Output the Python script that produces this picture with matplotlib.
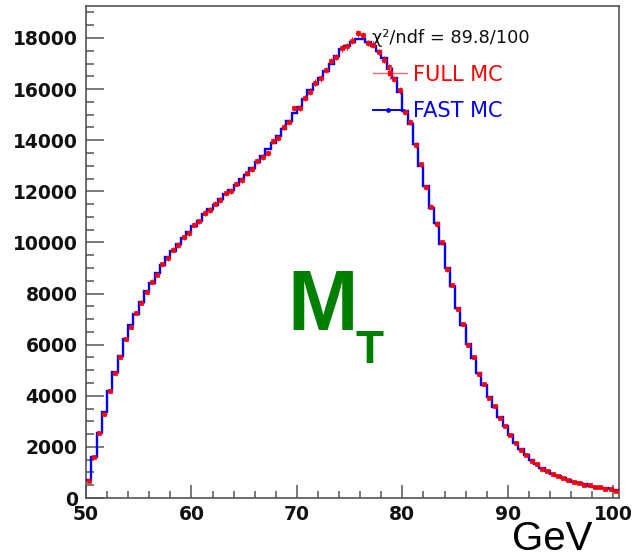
import numpy as np
import matplotlib
matplotlib.use("Agg")
import matplotlib.pyplot as plt
from matplotlib.lines import Line2D
from matplotlib.ticker import MultipleLocator

# Transverse mass, 0.5 GeV bins from 50 to 100.5 GeV
bin_lo = 50.0
bin_hi = 100.5
bin_width = 0.5

fast_mc = [
    700, 1620, 2560, 3350, 4190, 4920, 5570, 6210, 6760, 7190,
    7680, 8090, 8430, 8790, 9110, 9410, 9680, 9930, 10160, 10400,
    10650, 10850, 11100, 11300, 11480, 11700, 11880, 12050, 12250, 12480,
    12650, 12900, 13150, 13400, 13650, 13900, 14150, 14450, 14750, 15050,
    15300, 15600, 15950, 16200, 16450, 16700, 17000, 17300, 17550, 17700,
    17850, 17950, 17950, 17850, 17700, 17500, 17200, 16800, 16450, 15900,
    15150, 14640, 13840, 13000, 12200, 11360, 10770, 9940, 9000, 8300,
    7450, 6770, 6040, 5470, 4900, 4420, 3960, 3570, 3150, 2800,
    2470, 2150, 1900, 1680, 1480, 1320, 1170, 1050, 950, 860,
    780, 700, 640, 580, 530, 480, 440, 410, 380, 340,
    300,
]

full_mc = [
    680, 1610, 2540, 3300, 4170, 4900, 5500, 6230, 6680, 7240,
    7640, 8060, 8470, 8740, 9150, 9380, 9720, 9900, 10200, 10370,
    10700, 10820, 11150, 11270, 11520, 11660, 11920, 12010, 12300, 12440,
    12700, 12860, 13200, 13350, 13500, 13950, 14100, 14500, 14700, 15250,
    15260, 15650, 15900, 16250, 16420, 16750, 17100, 17250, 17600, 17680,
    17900, 18190, 18100, 17800, 17730, 17450, 17150, 16850, 16400, 15950,
    15100, 14700, 13800, 13050, 12150, 11400, 10720, 10000, 8950, 8330,
    7400, 6800, 6000, 5500, 4860, 4450, 3930, 3600, 3120, 2830,
    2450, 2170, 1880, 1700, 1460, 1340, 1150, 1060, 940, 870,
    770, 710, 630, 590, 520, 490, 430, 415, 370, 350,
    290,
]

chi2_text = "\u03c7\u00b2/ndf = 89.8/100"
x_ticks = [50, 60, 70, 80, 90, 100]
y_ticks = [0, 2000, 4000, 6000, 8000, 10000, 12000, 14000, 16000, 18000]

edges = np.arange(len(fast_mc) + 1) * bin_width + bin_lo
centers = 0.5 * (edges[:-1] + edges[1:])
fast = np.asarray(fast_mc, float)
full = np.asarray(full_mc, float)

fig = plt.figure(figsize=(6.36, 5.6), dpi=100)
fig.patch.set_facecolor("white")
ax = fig.add_axes([86 / 636, 1 - 498 / 560, 532.5 / 636, 492 / 560])

ax.stairs(fast, edges, baseline=None, color="#0000ff", lw=1.7, zorder=3)
ax.errorbar(centers, full, yerr=np.sqrt(full), xerr=bin_width / 2,
            fmt="s", ms=2.3, color="#ff0000", mec="#ff0000", mew=0.5,
            elinewidth=0.7, capsize=0, zorder=4)

ax.set_xlim(bin_lo, bin_hi)
ax.set_ylim(0, 19250)

frame = "#555555"
for s in ax.spines.values():
    s.set_color(frame)
    s.set_linewidth(1.2)

ax.xaxis.set_minor_locator(MultipleLocator(2))
ax.yaxis.set_minor_locator(MultipleLocator(500))
ax.set_xticks(x_ticks)
ax.set_yticks(y_ticks)

tick_font = dict(family="DejaVu Sans", weight="bold", size=13.5)
ax.set_xticklabels([str(v) for v in x_ticks], fontdict=tick_font)
ax.set_yticklabels([str(v) for v in y_ticks], fontdict=tick_font)

ax.tick_params(axis="y", which="major", direction="in", length=13, width=1.1,
               color=frame, pad=6, labelcolor="#111111")
ax.tick_params(axis="y", which="minor", direction="in", length=6, width=1.1,
               color=frame)
ax.tick_params(axis="x", which="major", direction="in", length=9.5, width=1.1,
               color=frame, pad=5, labelcolor="#111111")
ax.tick_params(axis="x", which="minor", direction="in", length=5, width=1.1,
               color=frame)

# legend drawn by hand in axes coordinates
tA = ax.transAxes
ax.add_line(Line2D([0.539, 0.603], [0.864, 0.864], color="#ff6666", lw=1.0,
                   transform=tA, zorder=5))
ax.add_line(Line2D([0.571, 0.571], [0.851, 0.877], color="#ff6666", lw=1.0,
                   transform=tA, zorder=5))
ax.add_line(Line2D([0.571], [0.864], color="#ff0000", marker="s", ms=2.3,
                   transform=tA, zorder=5))
ax.add_line(Line2D([0.539, 0.598], [0.789, 0.789], color="#0000ff", lw=1.4,
                   transform=tA, zorder=5))
ax.add_line(Line2D([0.567], [0.789], color="#0000ff", marker="o", ms=2.4,
                   transform=tA, zorder=5))
ax.text(0.614, 0.860, "FULL MC", transform=tA, color="#ff0000",
        fontsize=15, family="DejaVu Sans", va="center", ha="left")
ax.text(0.614, 0.787, "FAST MC", transform=tA, color="#0000ff",
        fontsize=15, family="DejaVu Sans", va="center", ha="left")
ax.text(0.537, 0.935, chi2_text, transform=tA, color="#111111",
        fontsize=12.8, family="DejaVu Sans", va="center", ha="left")

# M_T label
fig.text(287 / 636, 1 - 330 / 560, "M", color="#008000", fontsize=61,
         family="Liberation Sans", weight="bold", ha="left", va="baseline")
fig.text(355 / 636, 1 - 363 / 560, "T", color="#008000", fontsize=33,
         family="Liberation Sans", weight="bold", ha="left", va="baseline")

fig.text(512 / 636, 2 / 560, "GeV", color="black", fontsize=29,
         family="Liberation Sans", ha="left", va="bottom")

fig.savefig("out.png", dpi=100, facecolor="white")
